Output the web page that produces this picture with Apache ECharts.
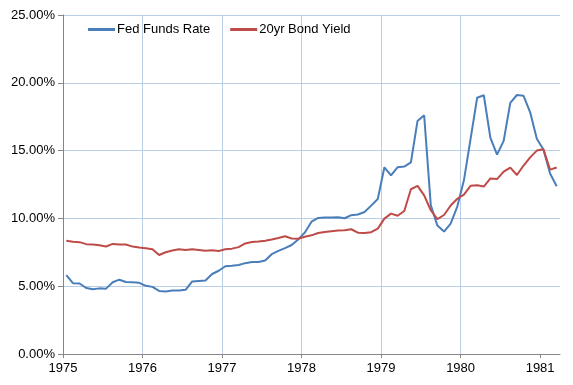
<!DOCTYPE html>
<html>
<head>
<meta charset="utf-8">
<script src="https://cdn.jsdelivr.net/npm/echarts@6/dist/echarts.min.js"></script>
<style>html,body{margin:0;padding:0;background:#fff}#c{width:573px;height:385px}</style>
</head>
<body>
<div id="c"></div>
<script>
var startYear = 1975;
var yearTicks = [1975, 1976, 1977, 1978, 1979, 1980, 1981];
var seriesNames = ['Fed Funds Rate', '20yr Bond Yield'];
var fedFunds = [5.82, 5.22, 5.20,
  4.87, 4.77, 4.84, 4.82, 5.29, 5.48, 5.31, 5.29, 5.25, 5.03, 4.95, 4.65,
  4.61, 4.68, 4.69, 4.73, 5.35, 5.39, 5.42, 5.90, 6.14, 6.47, 6.51, 6.56,
  6.70, 6.78, 6.79, 6.89, 7.36, 7.60, 7.81, 8.04, 8.45, 8.96, 9.76, 10.03,
  10.07, 10.06, 10.09, 10.01, 10.24, 10.29, 10.47, 10.94, 11.43, 13.77, 13.18, 13.78,
  13.82, 14.13, 17.19, 17.61, 10.98, 9.47, 9.03, 9.61, 10.87, 12.81, 15.85, 18.90,
  19.08, 15.93, 14.70, 15.72, 18.52, 19.10, 19.04, 17.82, 15.87, 15.08, 13.31, 12.37];
var bondYield = [8.35, 8.27, 8.25, 8.10, 8.08, 8.02, 7.93, 8.12, 8.08, 8.07, 7.92, 7.85,
  7.80, 7.72, 7.30, 7.50, 7.63, 7.72, 7.67, 7.72, 7.67, 7.62, 7.65, 7.60,
  7.72, 7.77, 7.88, 8.15, 8.26, 8.30, 8.35, 8.45, 8.56, 8.68, 8.52, 8.50,
  8.65, 8.75, 8.92, 9.00, 9.05, 9.10, 9.12, 9.20, 8.95, 8.93, 8.98, 9.25,
  9.98, 10.35, 10.20, 10.55, 12.15, 12.40, 11.70, 10.60, 9.95, 10.25, 10.95, 11.45,
  11.75, 12.40, 12.45, 12.35, 12.95, 12.90, 13.45, 13.75, 13.20, 13.90, 14.50, 15.00,
  15.10, 13.60, 13.75];

function toPoints(arr) {
  return arr.map(function (v, i) { return [startYear + (i + 0.5) / 12, v]; });
}
var nMonths = fedFunds.length;

var chart = echarts.init(document.getElementById('c'), null, {renderer: 'canvas'});
var font = 'Liberation Sans, Arial, sans-serif';
chart.setOption({
  animation: false,
  backgroundColor: '#ffffff',
  grid: {left: 63, right: 13, top: 15, bottom: 31, containLabel: false},
  legend: {
    left: 88, top: 23, padding: 0,
    itemWidth: 27, itemHeight: 3, itemGap: 20,
    icon: 'rect',
    textStyle: {fontFamily: font, fontSize: 13, color: '#000', padding: [0, 0, 0, -3]},
    data: seriesNames
  },
  xAxis: {
    type: 'value',
    min: startYear,
    max: startYear + nMonths / 12,
    interval: 1,
    axisLine: {show: true, lineStyle: {color: '#868686', width: 1}},
    axisTick: {show: true, length: 4, lineStyle: {color: '#868686'}, customValues: yearTicks},
    axisLabel: {fontFamily: font, fontSize: 13, color: '#000', margin: 8, customValues: yearTicks,
      formatter: function (v) { return String(Math.round(v)); }},
    splitLine: {show: true, showMinLine: false, showMaxLine: false, lineStyle: {color: '#B9CDE5', width: 1}}
  },
  yAxis: {
    type: 'value',
    min: 0, max: 25, interval: 5,
    axisLine: {show: true, lineStyle: {color: '#868686', width: 1}},
    axisTick: {show: true, length: 5, lineStyle: {color: '#868686'}},
    axisLabel: {fontFamily: font, fontSize: 13, color: '#000', margin: 8,
      formatter: function (v) { return v.toFixed(2) + '%'; }},
    splitLine: {show: true, lineStyle: {color: '#B9CDE5', width: 1}}
  },
  series: [
    {name: seriesNames[0], type: 'line', data: toPoints(fedFunds), showSymbol: false, symbol: 'none',
      lineStyle: {color: '#4A7EBB', width: 2}, itemStyle: {color: '#4A7EBB'}},
    {name: seriesNames[1], type: 'line', data: toPoints(bondYield), showSymbol: false, symbol: 'none',
      lineStyle: {color: '#BE4B48', width: 2}, itemStyle: {color: '#BE4B48'}}
  ]
});
</script>
</body>
</html>
